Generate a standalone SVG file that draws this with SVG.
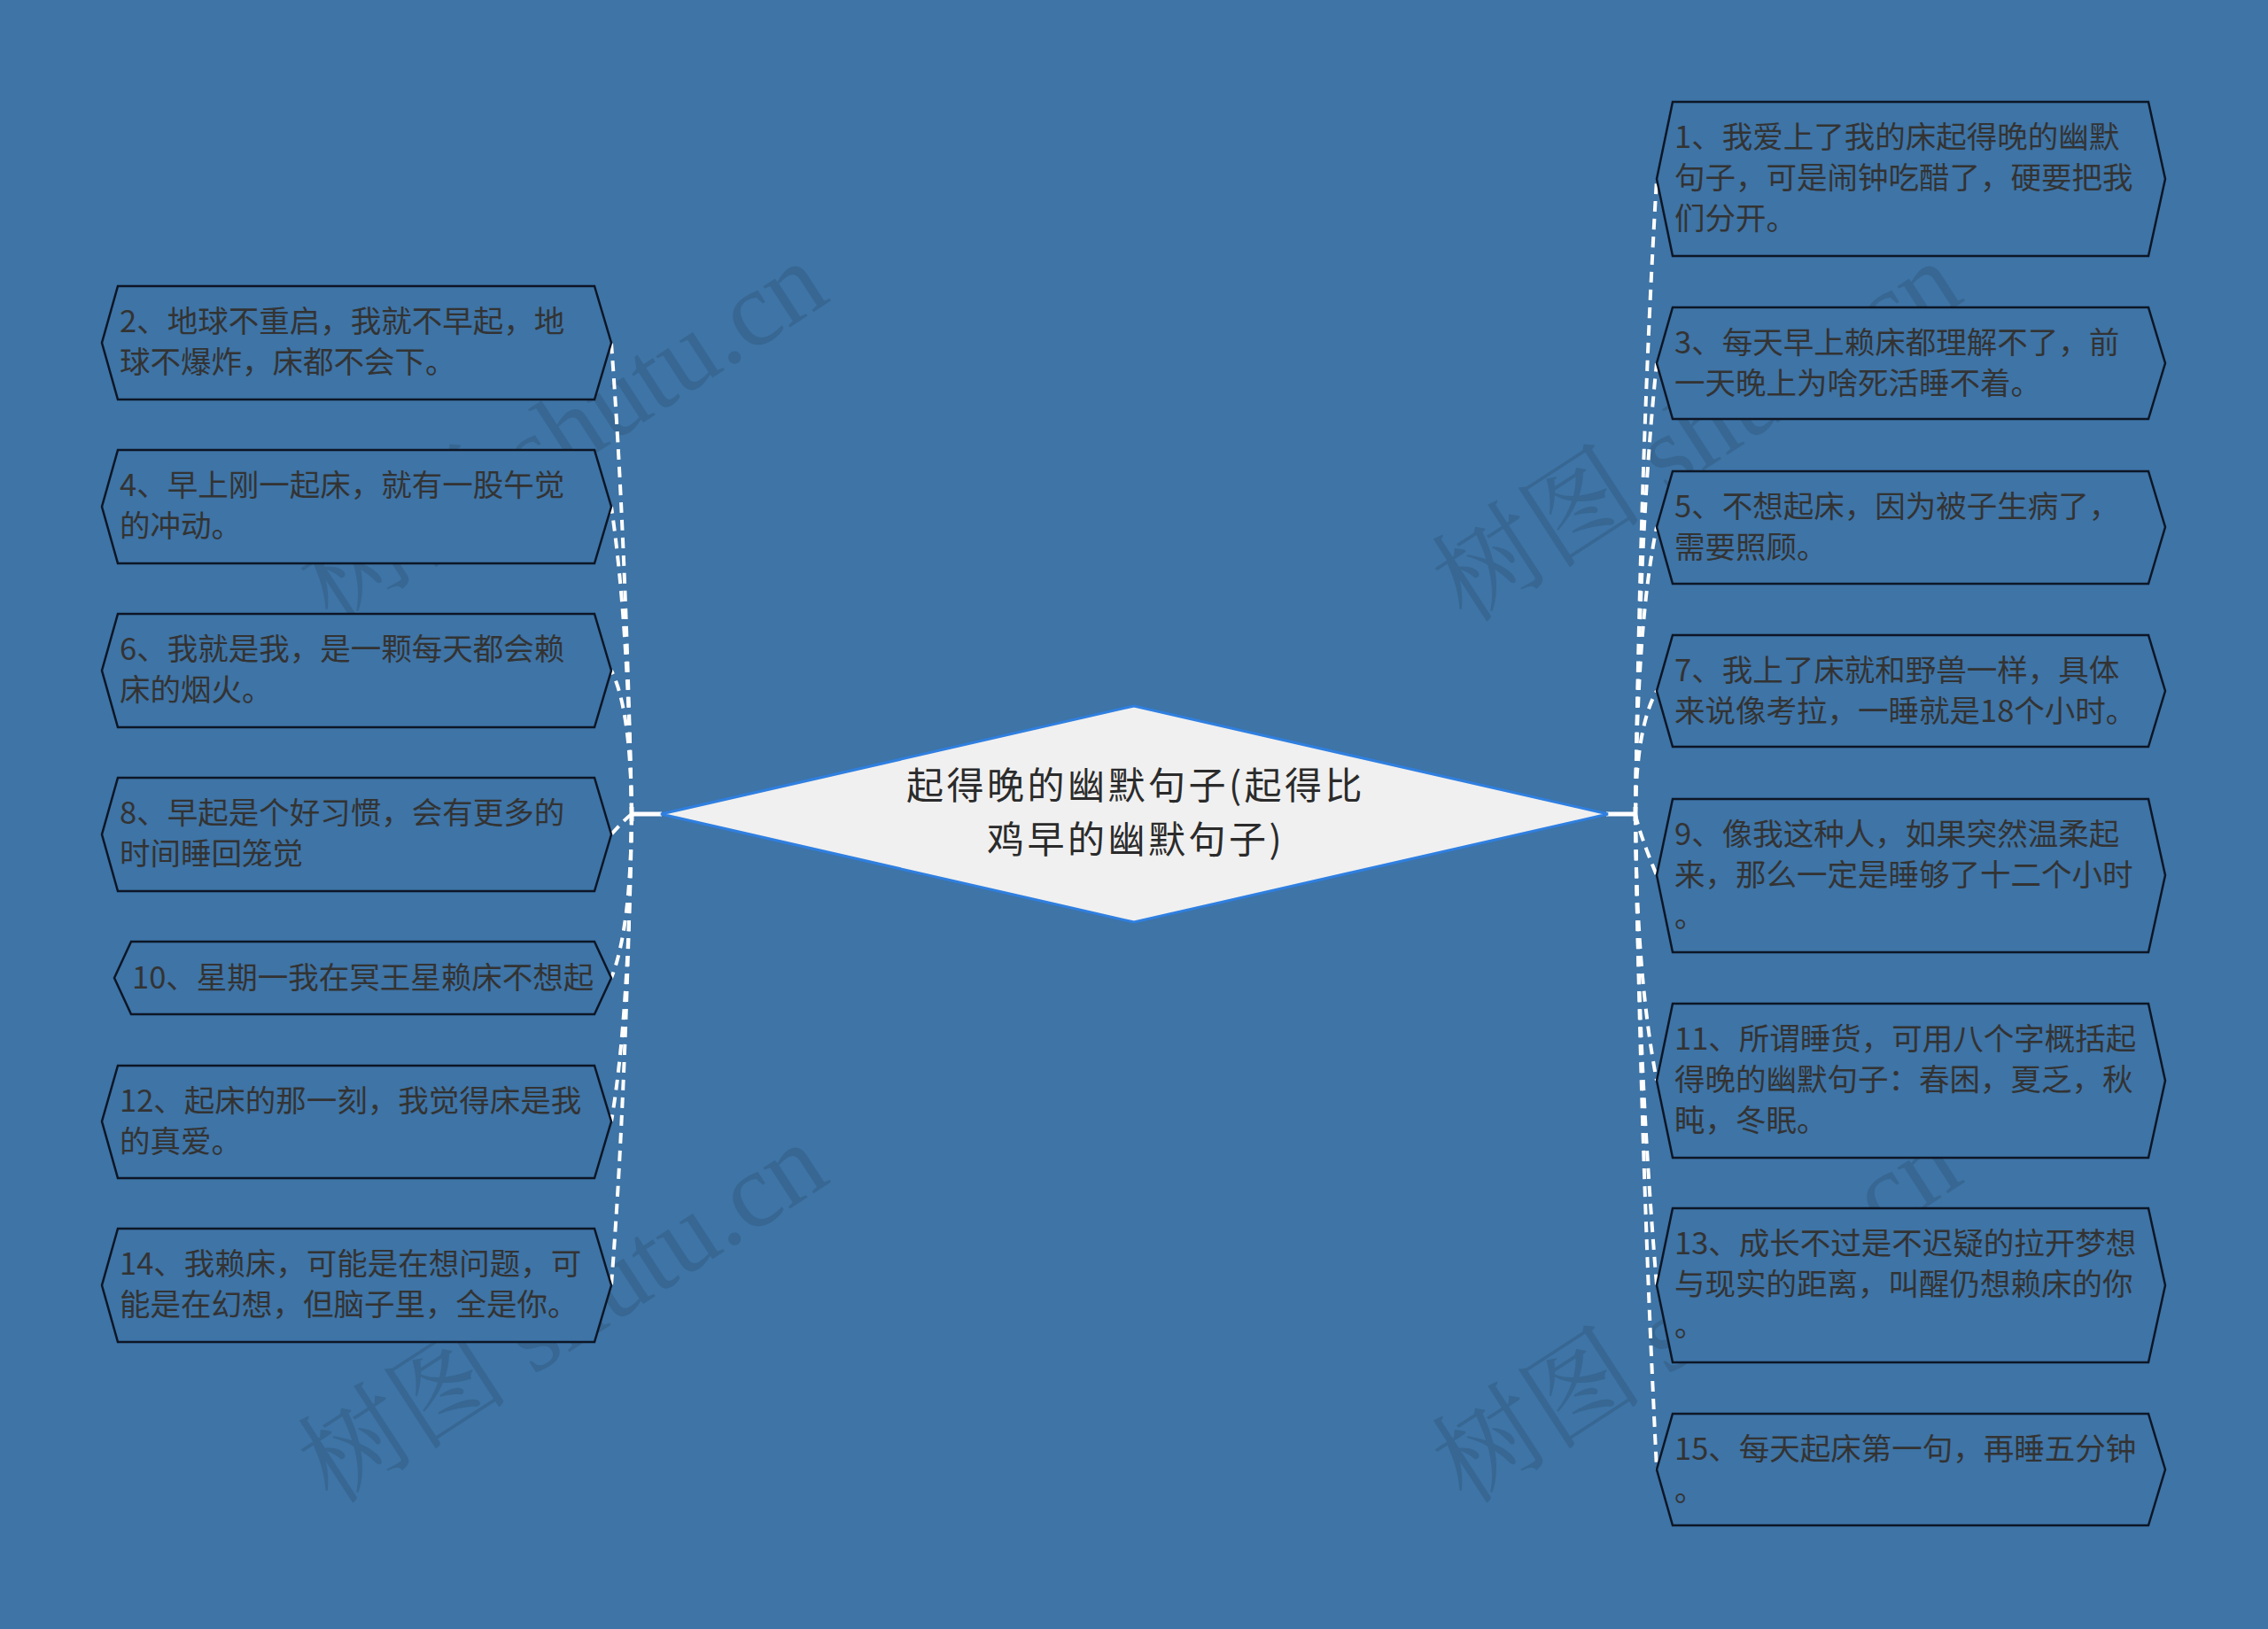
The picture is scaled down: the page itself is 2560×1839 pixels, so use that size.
<svg xmlns="http://www.w3.org/2000/svg" width="2560" height="1839" viewBox="0 0 2560 1839">
<style>
.bg{fill:#3e74a6}
.node{fill:#3e74a6;stroke:#0d1626;stroke-width:2.5}
.t{font-family:"Noto Sans CJK SC","Noto Sans CJK TC",sans-serif;font-size:34.5px;fill:#333333}
.ct{font-family:"Noto Sans CJK SC","Noto Sans CJK TC",sans-serif;font-size:42px;letter-spacing:3.5px;fill:#2b2b2b;text-anchor:middle}
.conn{fill:none;stroke:#ffffff;stroke-width:4;stroke-dasharray:12 8}
.stub{fill:none;stroke:#ffffff;stroke-width:5}
.wm{font-family:"Liberation Serif","Noto Serif CJK SC","Noto Sans CJK SC",serif;font-size:120px;fill:#1e2a3a;fill-opacity:0.18}
</style>
<rect class="bg" x="0" y="0" width="2560" height="1839"/>

<g id="watermarks">
<text class="wm" x="375" y="705" transform="rotate(-33 375 705)">树图 shutu.cn</text>
<text class="wm" x="375" y="1700" transform="rotate(-33 375 1700)">树图 shutu.cn</text>
<text class="wm" x="1655" y="705" transform="rotate(-33 1655 705)">树图 shutu.cn</text>
<text class="wm" x="1655" y="1700" transform="rotate(-33 1655 1700)">树图 shutu.cn</text>
</g>

<g id="connectors">
<line class="stub" x1="713" y1="919" x2="747" y2="919"/>
<line class="stub" x1="713" y1="911" x2="713" y2="927" stroke-width="4"/>
<line class="stub" x1="1813" y1="919" x2="1846" y2="919"/>
<line class="stub" x1="1846" y1="911" x2="1846" y2="927" stroke-width="4"/>
<path class="conn" d="M713 919 Q706 600 690 387"/>
<path class="conn" d="M713 919 Q709 700 690 572"/>
<path class="conn" d="M713 919 Q712 800 690 757"/>
<path class="conn" d="M713 919 Q705 925 690 942"/>
<path class="conn" d="M713 919 Q712 1050 690 1104"/>
<path class="conn" d="M713 919 Q710 1150 690 1266"/>
<path class="conn" d="M713 919 Q706 1250 690 1451"/>
<path class="conn" d="M1846 919 Q1852 500 1870 202"/>
<path class="conn" d="M1846 919 Q1850 600 1870 410"/>
<path class="conn" d="M1846 919 Q1848 700 1870 595"/>
<path class="conn" d="M1846 919 Q1847 820 1870 780"/>
<path class="conn" d="M1846 919 Q1850 940 1870 988"/>
<path class="conn" d="M1846 919 Q1847 1100 1870 1220"/>
<path class="conn" d="M1846 919 Q1849 1200 1870 1451"/>
<path class="conn" d="M1846 919 Q1852 1300 1870 1659"/>
</g>

<g id="center">
<polygon points="746,919 1280,797 1815,919 1280,1041" fill="#f0f0f0" stroke="#2f7fe0" stroke-width="3"/>
<text class="ct"><tspan x="1282" y="902">起得晚的幽默句子(起得比</tspan><tspan x="1282" y="963">鸡早的幽默句子)</tspan></text>
</g>

<g id="node2">
<polygon class="node" points="133,323 671,323 690,387 671,451 133,451 115,387"/>
<text class="t" x="135" y="375">2、地球不重启，我就不早起，地</text>
<text class="t" x="135" y="421">球不爆炸，床都不会下。</text>
</g>
<g id="node4">
<polygon class="node" points="133,508 671,508 690,572 671,636 133,636 115,572"/>
<text class="t" x="135" y="560">4、早上刚一起床，就有一股午觉</text>
<text class="t" x="135" y="606">的冲动。</text>
</g>
<g id="node6">
<polygon class="node" points="133,693 671,693 690,757 671,821 133,821 115,757"/>
<text class="t" x="135" y="745">6、我就是我，是一颗每天都会赖</text>
<text class="t" x="135" y="791">床的烟火。</text>
</g>
<g id="node8">
<polygon class="node" points="133,878 671,878 690,942 671,1006 133,1006 115,942"/>
<text class="t" x="135" y="930">8、早起是个好习惯，会有更多的</text>
<text class="t" x="135" y="976">时间睡回笼觉</text>
</g>
<g id="node10">
<polygon class="node" points="148,1063 671,1063 690,1104 671,1145 148,1145 129,1104"/>
<text class="t" x="149" y="1116">10、星期一我在冥王星赖床不想起</text>
</g>
<g id="node12">
<polygon class="node" points="133,1203 671,1203 690,1266 671,1330 133,1330 115,1266"/>
<text class="t" x="135" y="1255">12、起床的那一刻，我觉得床是我</text>
<text class="t" x="135" y="1301">的真爱。</text>
</g>
<g id="node14">
<polygon class="node" points="133,1387 671,1387 690,1451 671,1515 133,1515 115,1451"/>
<text class="t" x="135" y="1439">14、我赖床，可能是在想问题，可</text>
<text class="t" x="135" y="1485">能是在幻想，但脑子里，全是你。</text>
</g>

<g id="node1">
<polygon class="node" points="1888,115 2425,115 2444,202 2425,289 1888,289 1870,202"/>
<text class="t" x="1890" y="167">1、我爱上了我的床起得晚的幽默</text>
<text class="t" x="1890" y="213">句子，可是闹钟吃醋了，硬要把我</text>
<text class="t" x="1890" y="259">们分开。</text>
</g>
<g id="node3">
<polygon class="node" points="1888,347 2425,347 2444,410 2425,473 1888,473 1870,410"/>
<text class="t" x="1890" y="399">3、每天早上赖床都理解不了，前</text>
<text class="t" x="1890" y="445">一天晚上为啥死活睡不着。</text>
</g>
<g id="node5">
<polygon class="node" points="1888,532 2425,532 2444,595 2425,659 1888,659 1870,595"/>
<text class="t" x="1890" y="584">5、不想起床，因为被子生病了，</text>
<text class="t" x="1890" y="630">需要照顾。</text>
</g>
<g id="node7">
<polygon class="node" points="1888,717 2425,717 2444,780 2425,843 1888,843 1870,780"/>
<text class="t" x="1890" y="769">7、我上了床就和野兽一样，具体</text>
<text class="t" x="1890" y="815">来说像考拉，一睡就是18个小时。</text>
</g>
<g id="node9">
<polygon class="node" points="1888,902 2425,902 2444,988 2425,1075 1888,1075 1870,988"/>
<text class="t" x="1890" y="954">9、像我这种人，如果突然温柔起</text>
<text class="t" x="1890" y="1000">来，那么一定是睡够了十二个小时</text>
<text class="t" x="1890" y="1046">。</text>
</g>
<g id="node11">
<polygon class="node" points="1888,1133 2425,1133 2444,1220 2425,1307 1888,1307 1870,1220"/>
<text class="t" x="1890" y="1185">11、所谓睡货，可用八个字概括起</text>
<text class="t" x="1890" y="1231">得晚的幽默句子：春困，夏乏，秋</text>
<text class="t" x="1890" y="1277">盹，冬眠。</text>
</g>
<g id="node13">
<polygon class="node" points="1888,1364 2425,1364 2444,1451 2425,1538 1888,1538 1870,1451"/>
<text class="t" x="1890" y="1416">13、成长不过是不迟疑的拉开梦想</text>
<text class="t" x="1890" y="1462">与现实的距离，叫醒仍想赖床的你</text>
<text class="t" x="1890" y="1508">。</text>
</g>
<g id="node15">
<polygon class="node" points="1888,1596 2425,1596 2444,1659 2425,1722 1888,1722 1870,1659"/>
<text class="t" x="1890" y="1648">15、每天起床第一句，再睡五分钟</text>
<text class="t" x="1890" y="1694">。</text>
</g>
</svg>
